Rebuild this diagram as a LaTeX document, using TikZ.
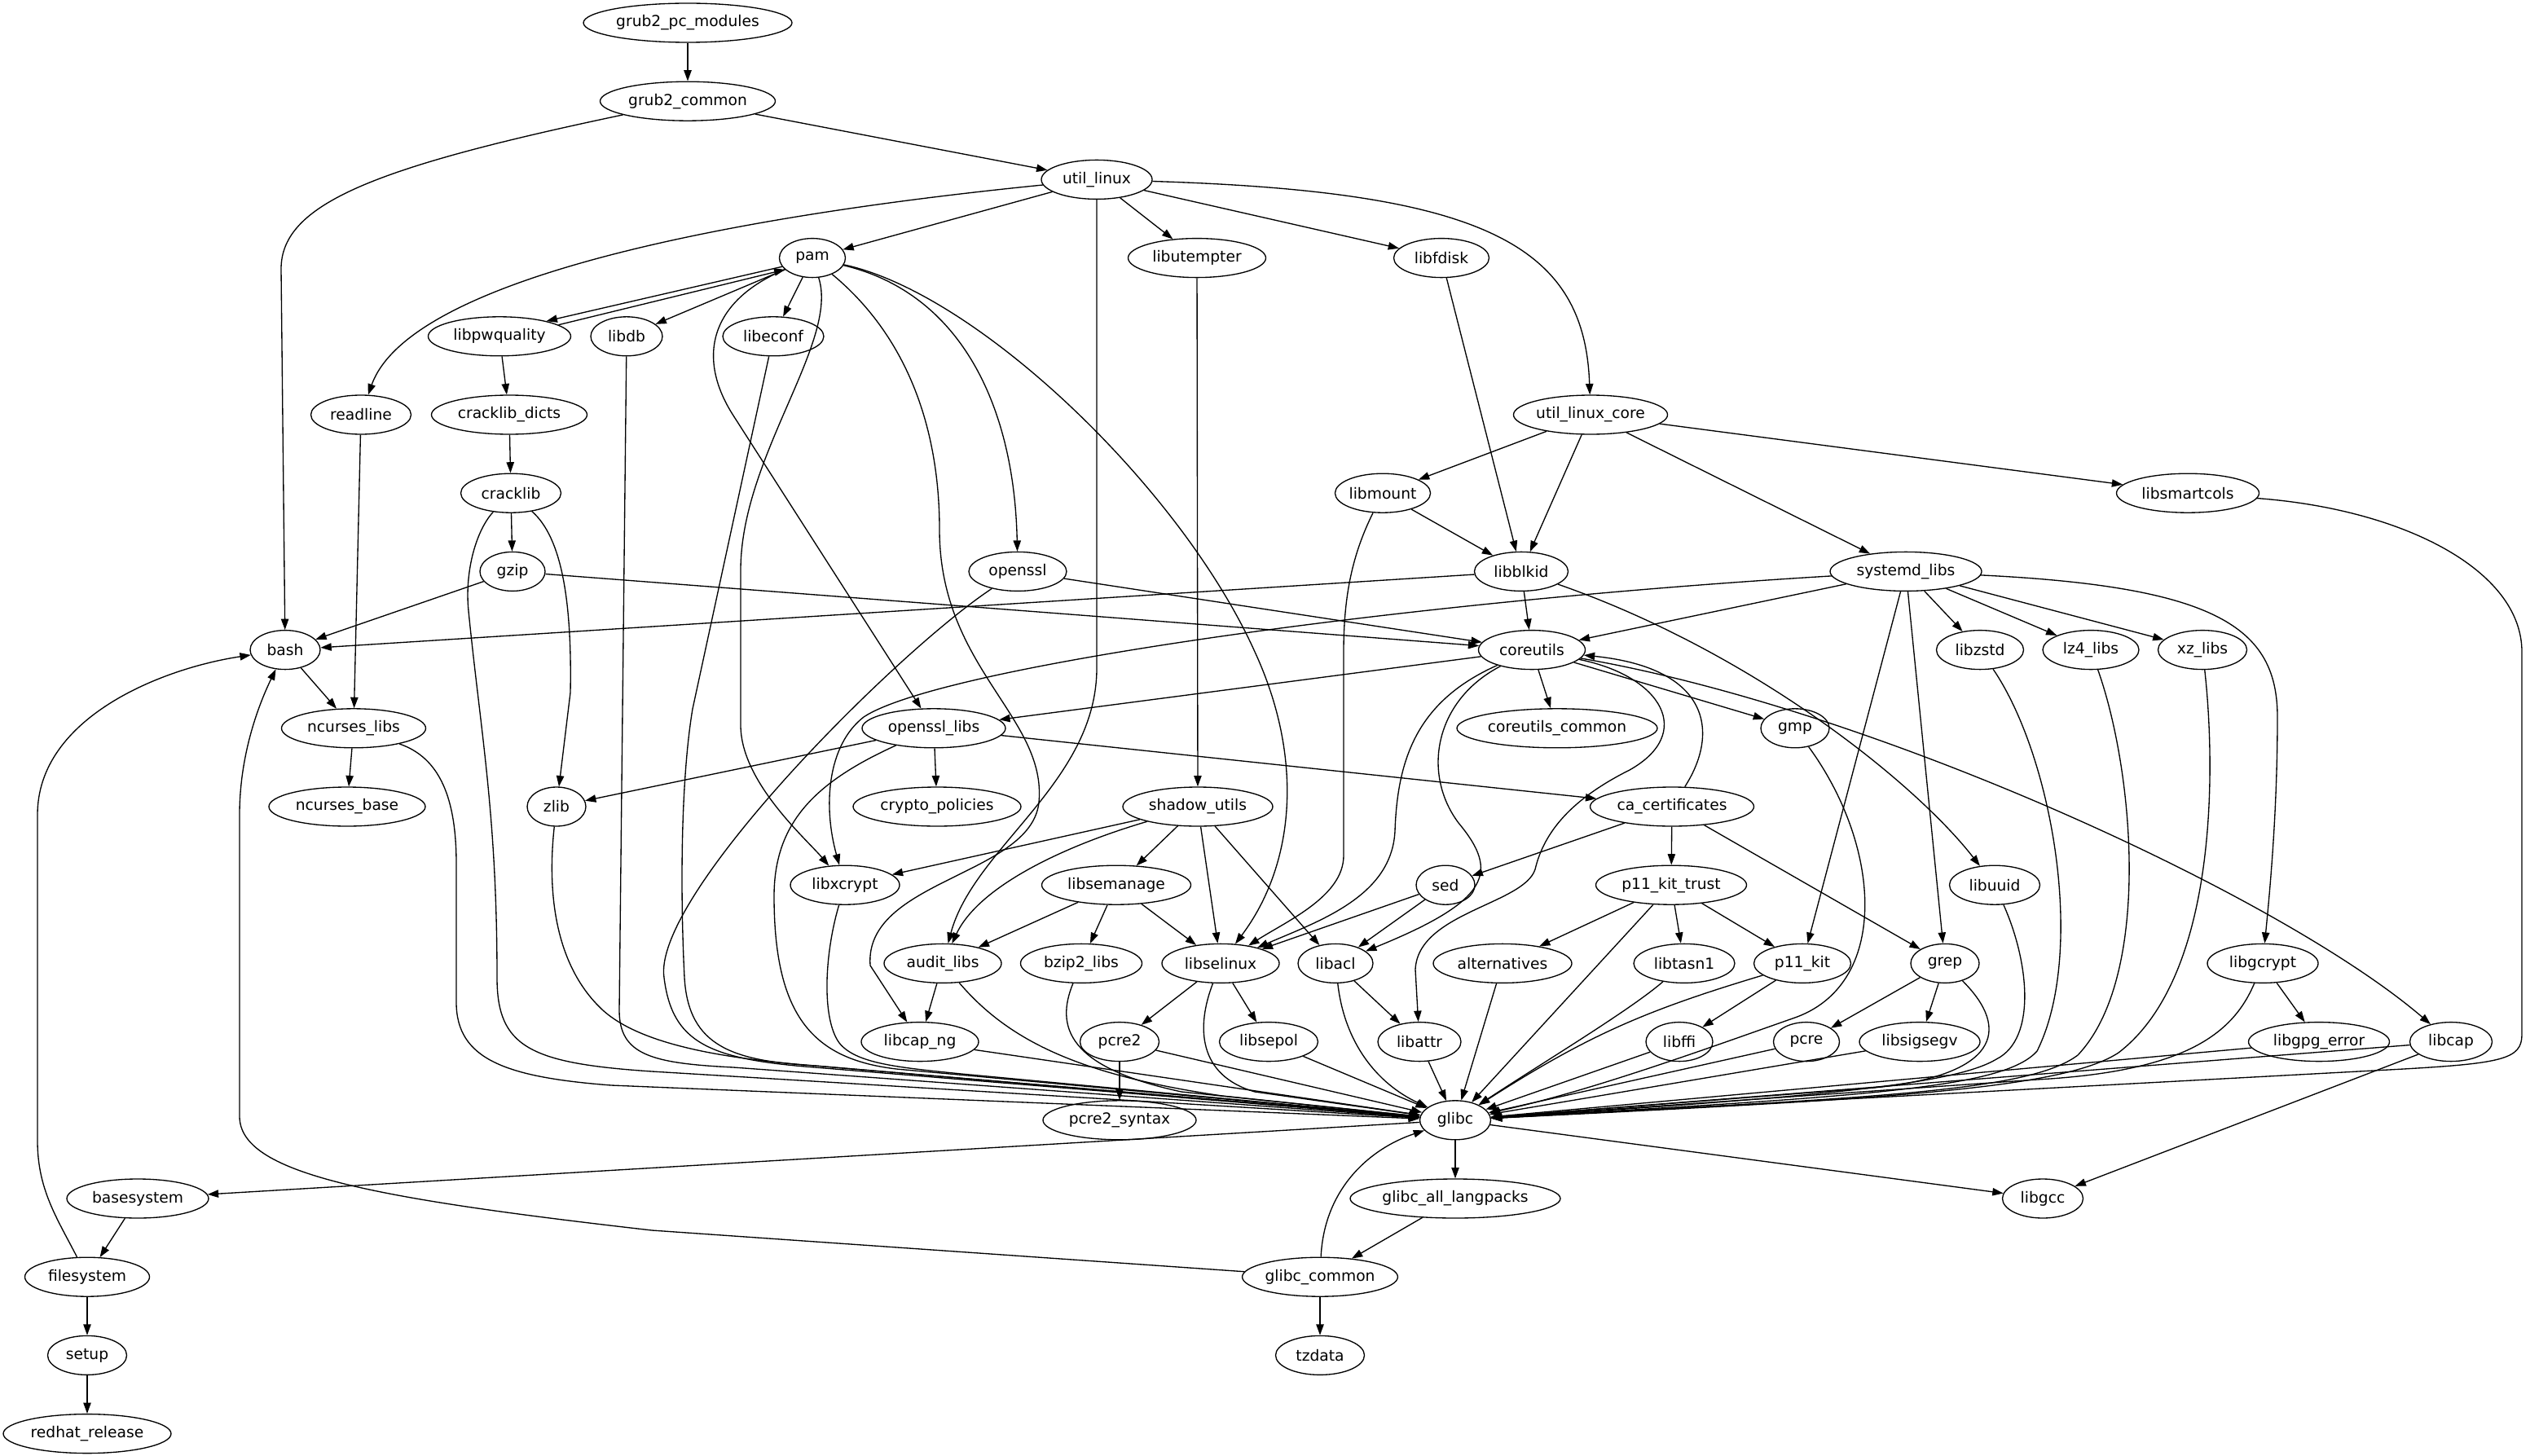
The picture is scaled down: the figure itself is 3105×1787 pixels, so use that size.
\documentclass[tikz,border=0pt]{standalone}
\usepackage{fontspec}
\setmainfont{DejaVu Sans}
\usetikzlibrary{shapes.geometric, arrows.meta}
\begin{document}
\begin{tikzpicture}[x=0.75pt,y=-0.75pt,
  n/.style={ellipse, draw, line width=1pt, inner sep=0pt, minimum height=36pt, font=\fontsize{14pt}{16pt}\selectfont},
  wd/.style={minimum width=#1*0.75pt},
  e/.style={draw, line width=1pt, -{Triangle[length=10pt,width=7pt]}}]
\fill[white] (0,0) rectangle (3105,1787);
\useasboundingbox (0,0) rectangle (3105,1787);
% rank 0-2
\node[n,wd=256] (gpm) at (844,28) {grub2\_pc\_modules};
\node[n,wd=215] (gc) at (844,124.2) {grub2\_common};
\node[n,wd=136] (ul) at (1346,220.4) {util\_linux};
% rank 3
\node[n,wd=81] (pam) at (997,316.6) {pam};
\node[n,wd=169] (ute) at (1469,316.6) {libutempter};
\node[n,wd=117] (fdisk) at (1769,316.6) {libfdisk};
% rank 4
\node[n,wd=175] (pwq) at (613,412.8) {libpwquality};
\node[n,wd=88] (db) at (769,412.8) {libdb};
\node[n,wd=124] (econf) at (949,412.8) {libeconf};
% rank 5
\node[n,wd=123] (rl) at (443,509) {readline};
\node[n,wd=191] (ckd) at (625,509) {cracklib\_dicts};
\node[n,wd=184] (ulc) at (1952,509) {util\_linux\_core};
% rank 6
\node[n,wd=123] (ck) at (627,605.2) {cracklib};
\node[n,wd=112] (mount) at (1697,605.2) {libmount};
\node[n,wd=175] (smart) at (2685,605.2) {libsmartcols};
% rank 7
\node[n,wd=80] (gzip) at (629,701.4) {gzip};
\node[n,wd=120] (ossl) at (1249,701.4) {openssl};
\node[n,wd=115] (blkid) at (1867,701.4) {libblkid};
\node[n,wd=186] (sysd) at (2339,701.4) {systemd\_libs};
% rank 8
\node[n,wd=86] (bash) at (350,797.6) {bash};
\node[n,wd=131] (cu) at (1880,797.6) {coreutils};
\node[n,wd=107] (zstd) at (2430,797.6) {libzstd};
\node[n,wd=118] (lz4) at (2566,797.6) {lz4\_libs};
\node[n,wd=109] (xz) at (2703,797.6) {xz\_libs};
% rank 9
\node[n,wd=177] (ncl) at (434,893.8) {ncurses\_libs};
\node[n,wd=176] (osl) at (1146,893.8) {openssl\_libs};
\node[n,wd=246] (cuc) at (1911,893.8) {coreutils\_common};
\node[n,wd=84] (gmp) at (2203,893.8) {gmp};
% rank 10
\node[n,wd=192] (ncb) at (426,990) {ncurses\_base};
\node[n,wd=72] (zlib) at (683,990) {zlib};
\node[n,wd=206] (cp) at (1150,990) {crypto\_policies};
\node[n,wd=184] (shadow) at (1470,990) {shadow\_utils};
\node[n,wd=201] (cac) at (2052,990) {ca\_certificates};
% rank 11
\node[n,wd=134] (xcrypt) at (1037,1086.2) {libxcrypt};
\node[n,wd=183] (sem) at (1370,1086.2) {libsemanage};
\node[n,wd=72] (sed) at (1774,1086.2) {sed};
\node[n,wd=185] (pkt) at (2051,1086.2) {p11\_kit\_trust};
\node[n,wd=111] (uuid) at (2448,1086.2) {libuuid};
% rank 12
\node[n,wd=144] (audit) at (1157,1182.4) {audit\_libs};
\node[n,wd=149] (bzip) at (1327,1182.4) {bzip2\_libs};
\node[n,wd=144] (selinux) at (1498,1182.4) {libselinux};
\node[n,wd=92] (acl) at (1639,1182.4) {libacl};
\node[n,wd=170] (alt) at (1844,1182.4) {alternatives};
\node[n,wd=124] (tasn) at (2067,1182.4) {libtasn1};
\node[n,wd=119] (pk) at (2212,1182.4) {p11\_kit};
\node[n,wd=84] (grep) at (2387,1182.4) {grep};
\node[n,wd=136] (gcrypt) at (2777,1182.4) {libgcrypt};
% rank 13
\node[n,wd=144] (capng) at (1129,1278.6) {libcap\_ng};
\node[n,wd=97] (pcretwo) at (1374,1278.6) {pcre2};
\node[n,wd=121] (sepol) at (1557,1278.6) {libsepol};
\node[n,wd=102] (attr) at (1742,1278.6) {libattr};
\node[n,wd=82] (ffi) at (2061,1278.6) {libffi};
\node[n,wd=81] (pcre) at (2217,1278.6) {pcre};
\node[n,wd=148] (sigsegv) at (2356,1278.6) {libsigsegv};
\node[n,wd=173] (gpg) at (2846,1278.6) {libgpg\_error};
\node[n,wd=101] (cap) at (3008,1278.6) {libcap};
% rank 14
\node[n,wd=188] (pcresyn) at (1374,1374.8) {pcre2\_syntax};
\node[n,wd=87] (glibc) at (1786,1374.8) {glibc};
% rank 15
\node[n,wd=174] (base) at (169,1471) {basesystem};
\node[n,wd=258] (gal) at (1786,1471) {glibc\_all\_langpacks};
\node[n,wd=99] (gcc) at (2507,1471) {libgcc};
% rank 16-18
\node[n,wd=153] (fs) at (107,1567.2) {filesystem};
\node[n,wd=190] (gcom) at (1620,1567.2) {glibc\_common};
\node[n,wd=97] (setup) at (107,1663.4) {setup};
\node[n,wd=109] (tz) at (1620,1663.4) {tzdata};
\node[n,wd=206] (rr) at (107,1759.6) {redhat\_release};

% ---------- edges ----------
\draw[e] (gpm) -- (gc);
\draw[e] (gc) -- (ul);
\draw[e] (gc) .. controls (460,205) and (345,250) .. (345,330) -- (bash);
\draw[e] (ul) -- (pam);
\draw[e] (ul) -- (ute);
\draw[e] (ul) -- (fdisk);
\draw[e] (ul) .. controls (1820,235) and (1945,300) .. (ulc);
\draw[e] (ul) .. controls (850,270) and (500,350) .. (rl);
\draw[e] (ul.south) -- (1346,820) .. controls (1346,960) and (1195,1040) .. (audit);
\draw[e] (pam.196) -- (pwq.18);
\draw[e] (pwq.11) -- (pam.203);
\draw[e] (pam) -- (db);
\draw[e] (pam) -- (econf);
\draw[e] (pam) .. controls (1030,420) and (909,560) .. (909,700) -- (909,890) .. controls (909,960) and (990,1030) .. (xcrypt);
\draw[e] (pam) .. controls (870,370) and (855,440) .. (900,510) -- (osl);
\draw[e] (pam) .. controls (1110,410) and (1153,520) .. (1153,650) .. controls (1153,820) and (1285,880) .. (1275,985) .. controls (1265,1075) and (1060,1080) .. (1068,1185) -- (capng);
\draw[e] (pam) .. controls (1180,360) and (1245,500) .. (ossl);
\draw[e] (pam) .. controls (1200,360) and (1450,600) .. (1540,800) .. controls (1600,930) and (1590,1060) .. (selinux);
\draw[e] (pwq) -- (ckd);
\draw[e] (db) -- (760,1240) .. controls (760,1295) and (800,1305) .. (900,1310) -- (glibc);
\draw[e] (econf) -- (850,870) .. controls (835,960) and (835,1100) .. (840,1200) .. controls (845,1285) and (900,1302) .. (1000,1308) -- (glibc);
\draw[e] (rl) -- (ncl);
\draw[e] (ckd) -- (ck);
\draw[e] (ulc) -- (mount);
\draw[e] (ulc) -- (blkid);
\draw[e] (ulc) -- (smart);
\draw[e] (ulc) -- (sysd);
\draw[e] (fdisk) -- (blkid);
\draw[e] (mount) -- (blkid);
\draw[e] (mount) .. controls (1660,680) and (1649,730) .. (1649,800) -- (1649,1050) .. controls (1649,1100) and (1580,1130) .. (selinux);
\draw[e] (ck) -- (gzip);
\draw[e] (ck) .. controls (690,660) and (702,740) .. (700,850) -- (zlib);
\draw[e] (ck) .. controls (585,650) and (570,700) .. (575,750) .. controls (590,900) and (610,1000) .. (610,1200) .. controls (610,1285) and (650,1305) .. (800,1315) -- (glibc);
\draw[e] (gzip) -- (bash);
\draw[e] (gzip) -- (cu);
\draw[e] (ossl) -- (cu);
\draw[e] (ossl) .. controls (1100,800) and (800,1100) .. (815,1200) .. controls (825,1280) and (870,1300) .. (1000,1310) -- (glibc);
\draw[e] (blkid) -- (cu);
\draw[e] (blkid) -- (bash);
\draw[e] (blkid) .. controls (2150,800) and (2350,960) .. (uuid);
\draw[e] (cu) .. controls (2300,870) and (2800,1100) .. (cap);
\draw[e] (sysd) -- (cu);
\draw[e] (sysd) .. controls (1700,740) and (1150,820) .. (1060,880) .. controls (1015,915) and (1010,990) .. (xcrypt);
\draw[e] (sysd) -- (zstd);
\draw[e] (sysd) -- (lz4);
\draw[e] (sysd) -- (xz);
\draw[e] (sysd) .. controls (2720,720) and (2795,770) .. (2795,880) .. controls (2795,1000) and (2785,1100) .. (gcrypt);
\draw[e] (sysd) -- (pk);
\draw[e] (sysd) -- (grep);
\draw[e] (smart) .. controls (2950,625) and (3095,700) .. (3095,800) -- (3095,1270) .. controls (3095,1300) and (3070,1305) .. (2950,1312) -- (glibc);
\draw[e] (zstd) .. controls (2520,930) and (2560,1170) .. (2500,1290) .. controls (2460,1335) and (2300,1345) .. (glibc);
\draw[e] (lz4) .. controls (2620,950) and (2640,1200) .. (2550,1295) .. controls (2490,1340) and (2300,1347) .. (glibc);
\draw[e] (xz) .. controls (2720,950) and (2720,1200) .. (2600,1292) .. controls (2530,1338) and (2300,1349) .. (glibc);
\draw[e] (gcrypt) -- (gpg);
\draw[e] (gcrypt) .. controls (2740,1270) and (2680,1315) .. (2500,1325) -- (glibc);
\draw[e] (gpg) -- (glibc);
\draw[e] (cap) -- (glibc);
\draw[e] (cap) -- (gcc);
\draw[e] (uuid) .. controls (2490,1180) and (2500,1275) .. (2450,1300) .. controls (2400,1330) and (2250,1345) .. (glibc);
\draw[e] (gmp) .. controls (2310,1040) and (2320,1210) .. (2200,1250) .. controls (2100,1285) and (1950,1340) .. (glibc);
\draw[e] (grep) -- (pcre);
\draw[e] (grep) -- (sigsegv);
\draw[e] (grep) .. controls (2470,1265) and (2450,1320) .. (2300,1335) -- (glibc);
\draw[e] (sigsegv) -- (glibc);
\draw[e] (pcre) -- (glibc);
\draw[e] (pk) -- (ffi);
\draw[e] (pk) .. controls (2020,1240) and (1950,1270) .. (glibc);
\draw[e] (ffi) -- (glibc);
\draw[e] (tasn) .. controls (2000,1240) and (1900,1300) .. (glibc);
\draw[e] (pkt) -- (glibc);
\draw[e] (pkt) -- (alt);
\draw[e] (pkt) -- (tasn);
\draw[e] (pkt) -- (pk);
\draw[e] (alt) -- (glibc);
\draw[e] (attr) -- (glibc);
\draw[e] (acl) -- (attr);
\draw[e] (acl) .. controls (1650,1280) and (1690,1330) .. (glibc);
\draw[e] (sepol) -- (glibc);
\draw[e] (selinux) .. controls (1468,1260) and (1470,1320) .. (1540,1340) -- (glibc);
\draw[e] (selinux) -- (sepol);
\draw[e] (selinux) -- (pcretwo);
\draw[e] (pcretwo) -- (pcresyn);
\draw[e] (pcretwo) -- (glibc);
\draw[e] (bzip) .. controls (1295,1260) and (1310,1310) .. (1450,1340) -- (glibc);
\draw[e] (audit) -- (capng);
\draw[e] (audit) .. controls (1240,1280) and (1330,1320) .. (1500,1345) -- (glibc);
\draw[e] (capng) -- (glibc);
\draw[e] (sem) -- (audit);
\draw[e] (sem) -- (bzip);
\draw[e] (sem) -- (selinux);
\draw[e] (ute) -- (shadow);
\draw[e] (shadow) -- (xcrypt);
\draw[e] (shadow) .. controls (1300,1040) and (1200,1090) .. (audit);
\draw[e] (shadow) -- (sem);
\draw[e] (shadow) -- (selinux);
\draw[e] (shadow) -- (acl);
\draw[e] (sed) -- (selinux);
\draw[e] (sed) -- (acl);
\draw[e] (cac) -- (sed);
\draw[e] (cac) -- (pkt);
\draw[e] (cac) -- (grep);
\draw[e] (cac) .. controls (2110,900) and (2100,820) .. (cu);
\draw[e] (cu) -- (cuc);
\draw[e] (cu) -- (gmp);
\draw[e] (cu) -- (osl);
\draw[e] (cu) .. controls (1740,860) and (1715,930) .. (1712,1020) .. controls (1708,1100) and (1620,1130) .. (selinux);
\draw[e] (cu) .. controls (1760,860) and (1745,950) .. (1790,1010) .. controls (1840,1070) and (1830,1105) .. (acl);
\draw[e] (cu) .. controls (2040,830) and (2080,900) .. (2000,945) .. controls (1930,980) and (1895,1020) .. (1884,1067) .. controls (1870,1110) and (1740,1120) .. (1737,1190) -- (attr);
\draw[e] (osl) -- (cp);
\draw[e] (osl) -- (zlib);
\draw[e] (osl) -- (cac);
\draw[e] (osl) .. controls (1000,960) and (950,1010) .. (950,1100) .. controls (950,1250) and (1000,1300) .. (1100,1312) -- (glibc);
\draw[e] (xcrypt) .. controls (1012,1170) and (1008,1250) .. (1030,1280) .. controls (1050,1305) and (1100,1310) .. (1180,1318) -- (glibc);
\draw[e] (bash) -- (ncl);
\draw[e] (ncl) -- (ncb);
\draw[e] (ncl) .. controls (540,930) and (560,980) .. (560,1060) -- (560,1230) .. controls (560,1300) and (620,1322) .. (750,1332) -- (glibc);
\draw[e] (zlib) .. controls (673,1080) and (675,1180) .. (740,1240) .. controls (790,1285) and (900,1300) .. (1000,1308) -- (glibc);
\draw[e] (fs) .. controls (70,1495) and (46,1460) .. (46,1400) -- (46,1000) .. controls (46,880) and (200,820) .. (bash);
\draw[e] (gcom) -- (800,1510) .. controls (450,1470) and (294,1440) .. (294,1370) -- (294,1000) .. controls (294,930) and (315,870) .. (bash);
\draw[e] (glibc) -- (base);
\draw[e] (glibc) -- (gal);
\draw[e] (glibc) -- (gcc);
\draw[e] (gal) -- (gcom);
\draw[e] (gcom) .. controls (1625,1460) and (1680,1410) .. (glibc);
\draw[e] (gcom) -- (tz);
\draw[e] (base) -- (fs);
\draw[e] (fs) -- (setup);
\draw[e] (setup) -- (rr);
\end{tikzpicture}
\end{document}
